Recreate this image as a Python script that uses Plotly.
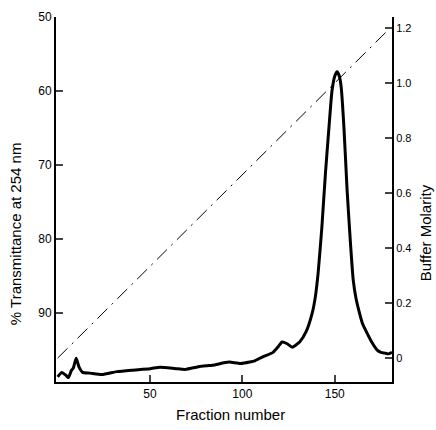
import plotly.graph_objects as go

# Transmittance trace (Fraction number vs % transmittance at 254 nm)
fraction = [0, 2.3, 4.5, 5.8, 7.5, 8.5, 10.0, 11.6, 13.5, 17.5, 24, 32, 40, 50, 55.5, 64, 69,
            77, 81, 85, 90, 93, 99, 104, 107, 111, 116.6, 119.5, 121.5, 124, 127, 129,
            131, 134.5, 137.8, 139.5, 141, 143, 145, 147, 148.5, 150, 151.3, 152.5, 153.5,
            155, 156.7, 158.5, 160, 161.5, 163, 165, 167.5, 170, 173, 175, 177, 179, 181]
transmittance = [98.6, 98.0, 98.4, 98.7, 97.7, 97.4, 96.1, 97.3, 98.0, 98.1, 98.3, 97.9, 97.7, 97.5, 97.3, 97.5, 97.6,
                 97.2, 97.1, 97.0, 96.7, 96.6, 96.8, 96.6, 96.4, 95.9, 95.3, 94.5, 93.9, 94.1, 94.6, 94.3,
                 93.9, 92.5, 90.0, 87.8, 84.6, 78.5, 71.0, 64.5, 60.0, 58.0, 57.4, 58.0, 59.5,
                 65.0, 73.4, 80.5, 85.5, 88.0, 89.6, 91.4, 92.7, 93.9, 95.0, 95.3, 95.4, 95.5, 95.3]

# Buffer molarity gradient
gradient_fraction = [0, 180]
gradient_molarity = [0.0, 1.2]

left_ticks = [50, 60, 70, 80, 90]
right_ticks = [0, 0.2, 0.4, 0.6, 0.8, 1.0, 1.2]
right_tick_labels = ["0", "0.2", "0.4", "0.6", "0.8", "1.0", "1.2"]
x_ticks = [50, 100, 150]

fig = go.Figure()
fig.add_trace(go.Scatter(x=gradient_fraction, y=gradient_molarity, mode="lines",
                         line=dict(color="black", width=1, dash="14px,6px,2px,6px"),
                         yaxis="y2", showlegend=False, hoverinfo="skip"))
fig.add_trace(go.Scatter(x=fraction, y=transmittance, mode="lines",
                         line=dict(color="black", width=3, shape="spline", smoothing=0.5),
                         showlegend=False))

fig.update_layout(
    width=436, height=430,
    margin=dict(l=56, r=44, t=17, b=48),
    paper_bgcolor="white", plot_bgcolor="white",
    font=dict(family="Liberation Sans, Arial, sans-serif", size=12, color="black"),
    xaxis=dict(range=[-0.9, 181], tickvals=x_ticks, ticks="inside", ticklen=7, tickwidth=1.5,
               showline=True, linecolor="black", linewidth=2, showgrid=False, zeroline=False,
               automargin=False, tickfont=dict(size=12)),
    yaxis=dict(range=[99.3, 50], tickvals=left_ticks, ticks="inside", ticklen=7, tickwidth=1.5,
               showline=True, linecolor="black", linewidth=2, showgrid=False, zeroline=False,
               automargin=False, tickfont=dict(size=12)),
    yaxis2=dict(range=[-0.087, 1.24], tickvals=right_ticks, ticktext=right_tick_labels,
                overlaying="y", side="right", ticks="inside", ticklen=7, tickwidth=1.5,
                showline=True, linecolor="black", linewidth=2, showgrid=False, zeroline=False,
                automargin=False, tickfont=dict(size=11)),
    annotations=[
        dict(text="Fraction number", xref="paper", yref="paper", x=0.518, y=-0.088,
             xanchor="center", yanchor="middle", showarrow=False, font=dict(size=15)),
        dict(text="% Transmittance at 254 nm", xref="paper", yref="paper", x=-0.122, y=0.405,
             xanchor="center", yanchor="middle", textangle=-90, showarrow=False, font=dict(size=15)),
        dict(text="Buffer Molarity", xref="paper", yref="paper", x=1.098, y=0.41,
             xanchor="center", yanchor="middle", textangle=-90, showarrow=False, font=dict(size=15)),
    ],
)

fig.write_html("out.html", config={"displayModeBar": False},
               post_script="document.body.style.margin='0px';document.body.style.padding='0px';")
